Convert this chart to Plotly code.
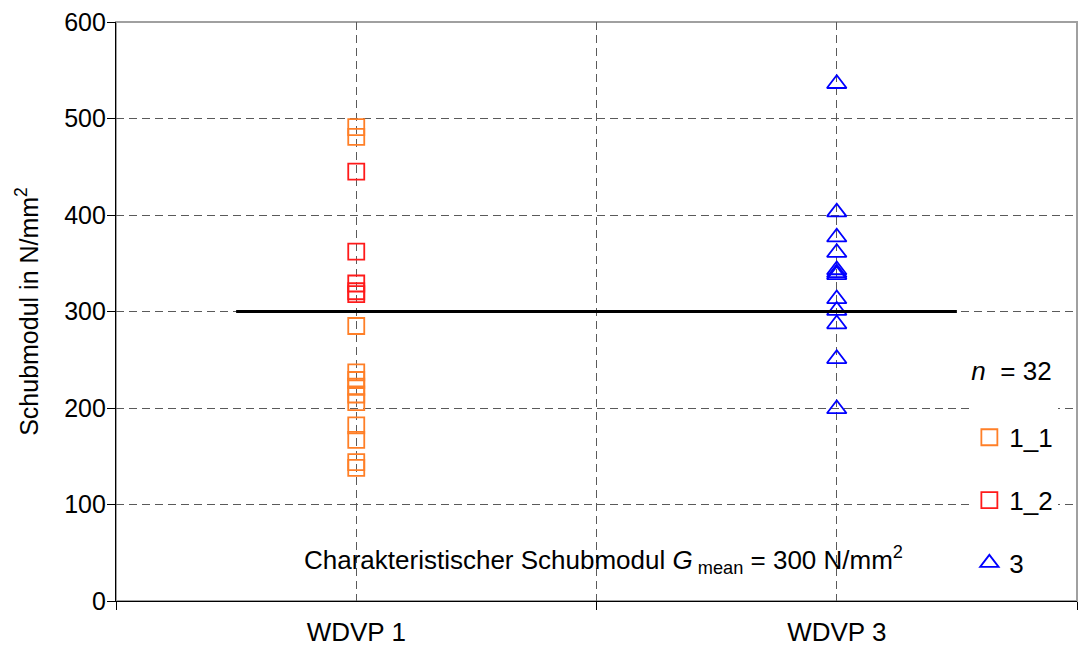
import plotly.graph_objects as go

categories = ["WDVP 1", "WDVP 3"]

series_1_1 = [491, 481, 285, 237, 229, 222, 214, 206, 182, 167, 144, 138]
series_1_2 = [445, 362, 329, 321, 318]
series_3 = [536, 403, 377, 361, 343, 340, 338, 313, 301, 287, 251, 199]

mean_value = 300
mean_line_x = [-0.25, 1.25]
n_total = 32

y_ticks = [0, 100, 200, 300, 400, 500, 600]

FONT = "Liberation Sans, Arial, sans-serif"
FS = 25
FL = 26
GRID = "#5a5a5a"
DASH = "8px,5px"

fig = go.Figure()

fig.add_trace(go.Scatter(
    x=[categories.index("WDVP 1")] * len(series_1_1), y=series_1_1,
    mode="markers", name="1_1", legendgroup="a",
    marker=dict(symbol="square-open", size=16, color="#FF7F27", line=dict(width=1.8, color="#FF7F27")),
))
fig.add_trace(go.Scatter(
    x=[categories.index("WDVP 1")] * len(series_1_2), y=series_1_2,
    mode="markers", name="1_2", legendgroup="b",
    marker=dict(symbol="square-open", size=16, color="#FF1A1A", line=dict(width=1.8, color="#FF1A1A")),
))
fig.add_trace(go.Scatter(
    x=[categories.index("WDVP 3")] * len(series_3), y=series_3,
    mode="markers", name="3", legendgroup="c",
    marker=dict(symbol="triangle-up-open", size=17, color="#0000FF", line=dict(width=1.8, color="#0000FF")),
))
fig.add_trace(go.Scatter(
    x=mean_line_x, y=[mean_value] * len(mean_line_x),
    mode="lines", line=dict(color="black", width=3), showlegend=False, hoverinfo="skip",
))
# invisible trace to activate boundary axis
fig.add_trace(go.Scatter(x=[None], y=[None], xaxis="x2", showlegend=False))

fig.update_layout(
    width=1079, height=649,
    margin=dict(l=116, r=2, t=22, b=48),
    paper_bgcolor="white", plot_bgcolor="white",
    font=dict(family=FONT, size=FS, color="black"),
    showlegend=True,
    legend=dict(
        x=0.888, y=0.44, xanchor="left", yanchor="top",
        bgcolor="white", borderwidth=0,
        title=dict(text=f"<i>n</i>  = {n_total}<br> ", font=dict(size=FL, family=FONT)),
        font=dict(size=FL, family=FONT), tracegroupgap=26, traceorder="grouped",
        itemwidth=30,
    ),
    xaxis=dict(
        range=[-0.5, 1.5], tickvals=[0, 1], ticktext=categories,
        ticks="outside", ticklen=8, tickcolor="rgba(0,0,0,0)",
        showgrid=True, gridcolor=GRID, griddash=DASH, gridwidth=1,
        zeroline=False, showline=True, linecolor="black", linewidth=1.3,
        tickfont=dict(size=FL, family=FONT), fixedrange=True,
    ),
    xaxis2=dict(
        overlaying="x", anchor="y", range=[-0.5, 1.5], tickvals=[-0.5, 0.5, 1.5],
        ticks="outside", ticklen=8, tickcolor="black", showticklabels=False,
        showgrid=True, gridcolor=GRID, griddash=DASH, gridwidth=1,
        zeroline=False, showline=False, side="bottom",
    ),
    yaxis=dict(
        range=[0, 600], tickvals=y_ticks, ticks="outside", ticklen=8, tickcolor="black",
        ticklabelstandoff=-4,
        showgrid=True, gridcolor=GRID, griddash=DASH, gridwidth=1,
        zeroline=False, showline=True, linecolor="black", linewidth=1.3,
        title=dict(text="Schubmodul in N/mm<sup>2</sup>", font=dict(size=FS, family=FONT), standoff=18),
        tickfont=dict(size=FS, family=FONT),
    ),
    shapes=[dict(type="rect", xref="paper", yref="paper", x0=0, x1=1, y0=0, y1=1,
                 line=dict(color="#a0a0a0", width=2), layer="below")],
    annotations=[dict(
        x=0.515, y=42, xref="x", yref="y", showarrow=False,
        text="Charakteristischer Schubmodul <i>G</i><sub> mean</sub> = 300 N/mm<sup>2</sup>",
        font=dict(size=FL, family=FONT), xanchor="center", yanchor="middle",
    )],
)

fig.write_html("out.html")
